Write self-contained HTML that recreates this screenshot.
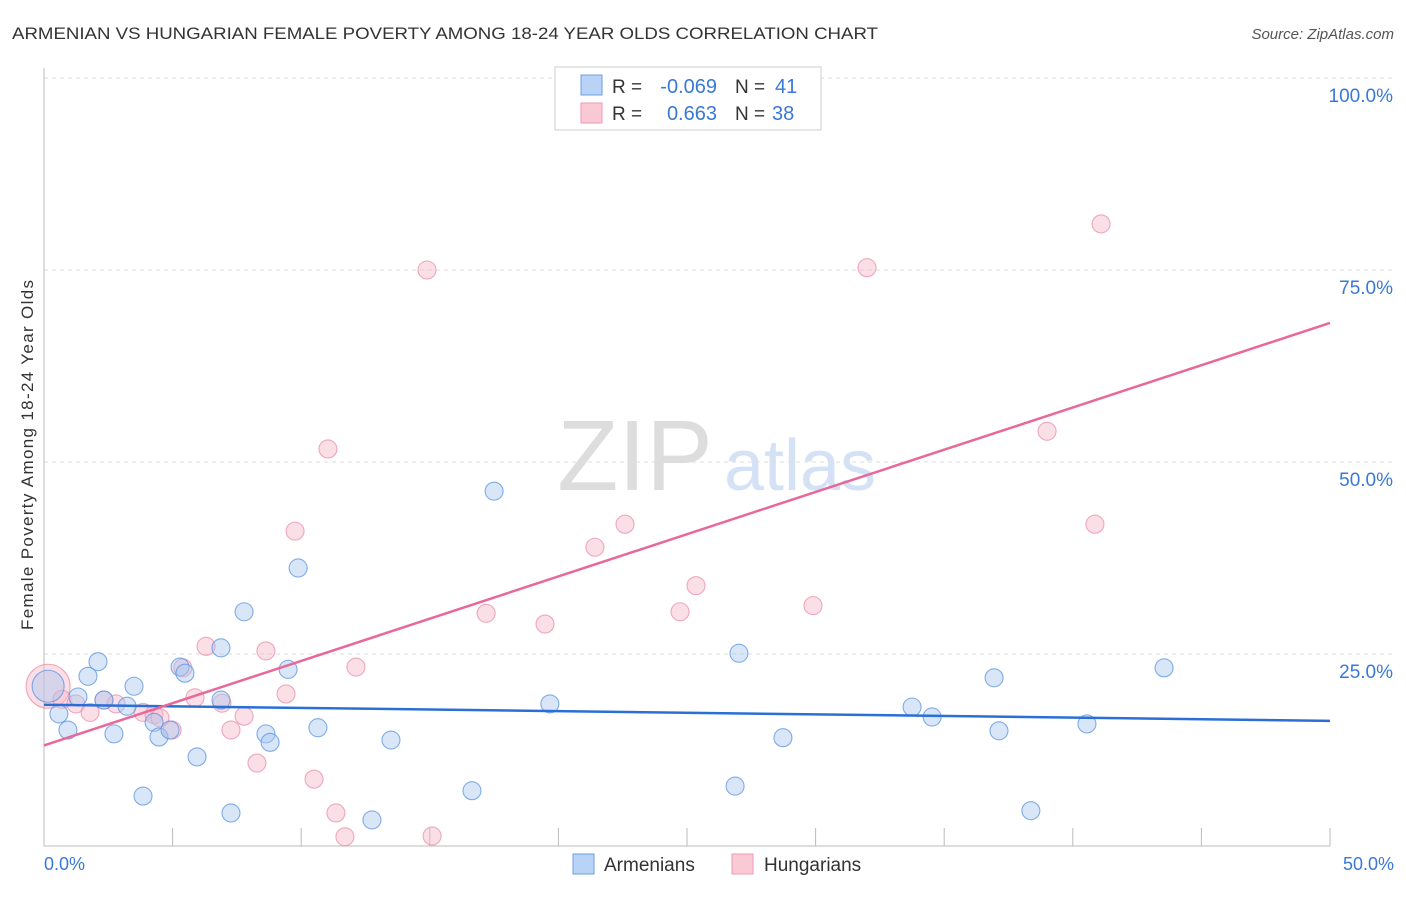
<!DOCTYPE html>
<html><head><meta charset="utf-8"><style>
body{margin:0;background:#fff;font-family:"Liberation Sans",sans-serif;}
svg text{font-family:"Liberation Sans",sans-serif;}
</style></head><body>
<svg width="1406" height="892">
<text x="12" y="39" font-size="17" fill="#333" textLength="866" lengthAdjust="spacingAndGlyphs">ARMENIAN VS HUNGARIAN FEMALE POVERTY AMONG 18-24 YEAR OLDS CORRELATION CHART</text>
<text x="1394" y="39" font-size="15" fill="#555" font-style="italic" text-anchor="end">Source: ZipAtlas.com</text>
<g>
<text x="635" y="490" font-size="100" fill="#ddd" font-family="Liberation Serif" text-anchor="middle">ZIP</text>
<text x="800" y="490" font-size="72" fill="#d5e2f5" text-anchor="middle">atlas</text>
</g>
<g id="grid"></g>
<line x1="44" y1="68" x2="44" y2="846" stroke="#bbb"/>
<line x1="44" y1="846" x2="1330" y2="846" stroke="#bbb"/>
<g id="ticks"></g>
<text x="33" y="455" font-size="17" fill="#333" text-anchor="middle" transform="rotate(-90 33 455)" textLength="350">Female Poverty Among 18-24 Year Olds</text>
<text x="44" y="870" font-size="18" fill="#3a78d8">0.0%</text>
<text x="1394" y="870" font-size="18" fill="#3a78d8" text-anchor="end">50.0%</text>
<g id="pts"></g>
<g id="lines"></g>
<g>
<rect x="555" y="67" width="266" height="63" fill="#fff" stroke="#ccc"/>
<rect x="581" y="75" width="21" height="20" fill="#b8d3f5" stroke="#6d9fe0"/>
<rect x="581" y="103" width="21" height="20" fill="#f9c9d6" stroke="#eb9ab2"/>
<text x="612" y="93" font-size="19" fill="#333">R =</text>
<text x="717" y="93" font-size="20" fill="#3a78d8" text-anchor="end">-0.069</text>
<text x="735" y="93" font-size="19" fill="#333">N =</text>
<text x="775" y="93" font-size="20" fill="#3a78d8">41</text>
<text x="612" y="120" font-size="19" fill="#333">R =</text>
<text x="717" y="120" font-size="20" fill="#3a78d8" text-anchor="end">0.663</text>
<text x="735" y="120" font-size="19" fill="#333">N =</text>
<text x="772" y="120" font-size="20" fill="#3a78d8">38</text>
</g>
<g>
<rect x="573" y="854" width="21" height="20" fill="#b8d3f5" stroke="#6d9fe0"/>
<text x="604" y="871" font-size="19" fill="#333">Armenians</text>
<rect x="732" y="854" width="21" height="20" fill="#f9c9d6" stroke="#eb9ab2"/>
<text x="764" y="871" font-size="19" fill="#333">Hungarians</text>
</g>
</svg>
<script>
const yTicks=[25,50,75,100];
const yTickLabels=["25.0%","50.0%","75.0%","100.0%"];
const xTicks=[0,5,10,15,20,25,30,35,40,45,50];
const armX=[0.16,0.58,0.93,1.32,1.71,2.10,2.33,2.72,3.23,3.50,3.85,4.28,4.47,4.90,5.29,5.48,5.95,6.88,6.88,7.27,7.78,8.63,8.79,9.49,9.88,10.65,12.75,13.49,16.64,17.50,19.67,26.87,27.02,28.73,33.75,34.53,36.94,37.13,38.37,40.55,43.55];
const armY=[20.8,17.2,15.1,19.4,22.1,24.0,19.0,14.6,18.2,20.8,6.5,16.1,14.2,15.1,23.3,22.5,11.6,19.0,25.8,4.3,30.5,14.6,13.5,23.0,36.2,15.4,3.4,13.8,7.2,46.2,18.5,7.8,25.1,14.1,18.1,16.8,21.9,15.0,4.6,15.9,23.2];
const hunX=[0.16,0.70,1.24,1.79,2.33,2.80,3.85,4.28,4.98,5.40,5.87,6.30,6.92,7.27,7.78,8.28,8.63,9.41,9.76,10.50,11.04,11.35,11.70,12.13,14.89,15.09,17.19,19.48,21.42,22.59,24.73,25.35,29.90,32.00,39.00,40.86,41.10,4.51];
const hunY=[20.8,19.1,18.5,17.4,19.0,18.5,17.4,17.1,15.1,23.2,19.3,26.0,18.6,15.1,16.9,10.8,25.4,19.8,41.0,8.7,51.7,4.3,1.2,23.3,75.0,1.3,30.3,28.9,38.9,41.9,30.5,33.9,31.3,75.3,54.0,41.9,81.0,16.7];
const armLine=[18.4,16.3];
const hunLine=[13.1,68.1];
const sx=v=>44+v*25.72, sy=v=>846-v*7.68;
const NS="http://www.w3.org/2000/svg";
function mk(t,a,p){const e=document.createElementNS(NS,t);for(const k in a)e.setAttribute(k,a[k]);document.getElementById(p).appendChild(e);return e;}
yTicks.forEach((t,i)=>{
 const l=mk('line',{x1:44,x2:1395,y1:sy(t),y2:sy(t),stroke:'#ddd','stroke-dasharray':'4 4'},'grid');
 
 
 const tx=mk('text',{x:1393,y:sy(t)+24,'font-size':19,fill:'#3a78d8','text-anchor':'end'},'grid');
 tx.textContent=yTickLabels[i];
 
 
});
xTicks.forEach(t=>{
 const l=mk('line',{x1:sx(t),x2:sx(t),y1:828,y2:846,stroke:'#bbb'},'ticks');
 
 
});
function pts(X,Y,fill,stroke,name){
 X.forEach((x,i)=>{
  const r=i===0?(name==='hungarian-point'?22:16):9;
  const c=mk('circle',{cx:sx(x),cy:sy(Y[i]),r:r,fill:fill,'fill-opacity':0.45,stroke:stroke,'stroke-opacity':0.75,'stroke-width':1.1},'pts');
  
  
 });
}
pts(hunX,hunY,'#f6b8ca','#ea8eaa','hungarian-point');
pts(armX,armY,'#a9c8f0','#5b93e0','armenian-point');
const bl=mk('line',{x1:sx(0),y1:sy(armLine[0]),x2:sx(50),y2:sy(armLine[1]),stroke:'#2a6fd6','stroke-width':2.5},'lines');


const pl=mk('line',{x1:sx(0),y1:sy(hunLine[0]),x2:sx(50),y2:sy(hunLine[1]),stroke:'#e8689a','stroke-width':2.5},'lines');


</script>
</body></html>
